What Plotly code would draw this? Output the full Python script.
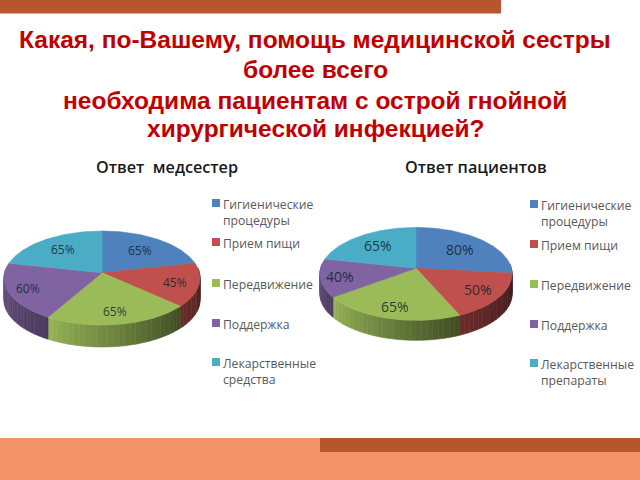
import math
import plotly.graph_objects as go

TITLE_LINES = ["Какая, по-Вашему, помощь медицинской сестры", "более всего",
               "необходима пациентам с острой гнойной", "хирургической инфекцией?"]
TITLE_Y = [39, 69, 100, 128]

NURSE_TITLE = "Ответ  медсестер"
PATIENT_TITLE = "Ответ пациентов"
NURSE_CATEGORIES = ["Гигиенические<br>процедуры", "Прием пищи", "Передвижение", "Поддержка", "Лекарственные<br>средства"]
PATIENT_CATEGORIES = ["Гигиенические<br>процедуры", "Прием пищи", "Передвижение", "Поддержка", "Лекарственные<br>препараты"]
NURSE_VALUES = [65, 45, 65, 60, 65]
PATIENT_VALUES = [80, 50, 65, 40, 65]

COLORS = ["#4f81bd", "#c0504d", "#9bbb59", "#8064a2", "#4bacc6"]
WALL_SHADE = [(0.6, 0.45), (0.55, 0.32), (0.95, 0.42), (0.85, 0.6), (0.7, 0.5)]
LABEL_RADIUS = [0.66, 0.76, 0.78, 0.8, 0.68]

NURSE_GEOM = dict(cx=102, cy=272.7, sx=97.4, sy=46.4, k=0.1127, depth=22, label=12)
PATIENT_GEOM = dict(cx=416, cy=268.3, sx=95.4, sy=45.8, k=0.12, depth=20, label=14)

FONT = "Open Sans"
fig = go.Figure()


def project(theta_deg, r, g, depth=0):
    t = math.radians(theta_deg)
    u, v = r * math.sin(t), -r * math.cos(t)
    d = 1 - g["k"] * v
    return g["cx"] + g["sx"] * u / d, g["cy"] + g["sy"] * v / d + depth


def shade(color, f):
    c = [int(color[i:i + 2], 16) for i in (1, 3, 5)]
    return "rgb({},{},{})".format(*[round(x * f) for x in c])


def poly(xs, ys, color):
    fig.add_trace(go.Scatter(x=xs, y=ys, mode="lines", fill="toself", fillcolor=color,
                             line=dict(color=color, width=0.6), hoverinfo="skip", showlegend=False))


def pie3d(values, g):
    total = sum(values)
    spans = []
    a = 0.0
    for val in values:
        spans.append((a, a + val / total * 360))
        a += val / total * 360
    # side wall, built up in thin strips so that it lightens towards the left
    for (a0, a1), col, (s0, s1) in zip(spans, COLORS, WALL_SHADE):
        n = max(2, int((a1 - a0) / 3))
        for i in range(n):
            t0 = a0 + (a1 - a0) * i / n
            t1 = a0 + (a1 - a0) * (i + 1) / n
            if 85 < (t0 + t1) / 2 < 275:
                frac = i / (n - 1)
                x0, y0 = project(t0, 1, g)
                x1, y1 = project(t1, 1, g)
                x2, y2 = project(t1, 1, g, g["depth"])
                x3, y3 = project(t0, 1, g, g["depth"])
                f = s1 + (s0 - s1) * frac
                poly([x0, x1, x2, x3, x0], [y0, y1, y2, y3, y0], shade(col, f))
    # top faces
    for (a0, a1), col in zip(spans, COLORS):
        n = max(2, int(a1 - a0))
        pts = [project(a0 + (a1 - a0) * i / n, 1, g) for i in range(n + 1)]
        xs = [g["cx"]] + [p[0] for p in pts] + [g["cx"]]
        ys = [g["cy"]] + [p[1] for p in pts] + [g["cy"]]
        poly(xs, ys, col)
    # value labels
    for (a0, a1), val, r in zip(spans, values, LABEL_RADIUS):
        x, y = project((a0 + a1) / 2, r, g)
        fig.add_annotation(x=x, y=y, text=f"{val}%", showarrow=False,
                           font=dict(family=FONT, size=g["label"], color="rgba(10,25,40,0.8)"))


pie3d(NURSE_VALUES, NURSE_GEOM)
pie3d(PATIENT_VALUES, PATIENT_GEOM)


def legend(cats, rows, marker_x, text_x):
    for cat, row, col in zip(cats, rows, COLORS):
        fig.add_shape(type="rect", x0=marker_x, x1=marker_x + 8, y0=row - 4, y1=row + 4,
                      fillcolor=col, line_width=0)
        fig.add_annotation(x=text_x, y=row - 9, text=cat, showarrow=False, xanchor="left", yanchor="top",
                           align="left", xshift=-2,
                           font=dict(family=FONT, size=12.2, color="#595959"))


legend(NURSE_CATEGORIES, [203, 242, 283, 323, 362], 212, 223)
legend(PATIENT_CATEGORIES, [204, 244, 284, 324, 363], 530, 541)

for line, y in zip(TITLE_LINES, TITLE_Y):
    fig.add_annotation(x=315, y=y, text=line, showarrow=False,
                       font=dict(family="Liberation Sans", size=24.5, color="#c00000", weight="bold"))
fig.add_annotation(x=167, y=167, text=NURSE_TITLE, showarrow=False,
                   font=dict(family=FONT, size=16.2, color="#1a1a1a", weight=600))
fig.add_annotation(x=476, y=167, text=PATIENT_TITLE, showarrow=False,
                   font=dict(family=FONT, size=16.2, color="#1a1a1a", weight=600))

for x0, x1, y0, y1, col in [(0, 501, 0, 13.5, "#b7562c"), (0, 640, 438, 480, "#f4926a"), (320, 640, 438, 452, "#b7562c")]:
    fig.add_shape(type="rect", x0=x0, x1=x1, y0=y0, y1=y1, fillcolor=col, line_width=0, layer="below")

fig.update_layout(width=640, height=480, margin=dict(l=0, r=0, t=0, b=0), paper_bgcolor="white", plot_bgcolor="white",
                  showlegend=False,
                  xaxis=dict(range=[0, 640], visible=False, fixedrange=True),
                  yaxis=dict(range=[480, 0], visible=False, fixedrange=True))
fig.write_html("out.html", config={"displayModeBar": False},
               post_script="document.body.style.margin='0';document.documentElement.style.overflow='hidden';")
